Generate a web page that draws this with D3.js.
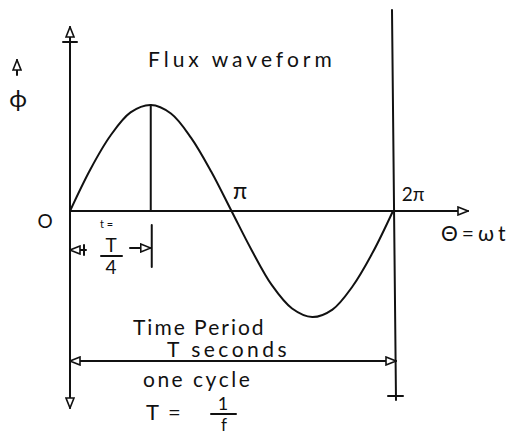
<!DOCTYPE html>
<html>
<head>
<meta charset="utf-8">
<script src="https://cdn.jsdelivr.net/npm/d3@7"></script>
<style>
  body { margin: 0; background: #fff; }
  svg { display: block; }
  .ink { stroke: #111; fill: none; stroke-width: 2; stroke-linecap: round; }
  .hand { font-family: "Lato", "DejaVu Sans", sans-serif; fill: #111; }
</style>
</head>
<body>
<script>
// angle values in units of pi
var thetaPi = [0, 0.125, 0.25, 0.375, 0.5, 0.625, 0.75, 0.875, 1, 1.125, 1.25, 1.375, 1.5, 1.625, 1.75, 1.875, 2];
// flux values (normalised to peak)
var flux = [0, 0.39, 0.71, 0.93, 1, 0.92, 0.69, 0.37, 0, -0.37, -0.7, -0.92, -1, -0.93, -0.71, -0.39, 0];
// labels on the theta axis
var tickPi = [0, 1, 2];
var tickLabels = ["O", "π", "2π"];

(function(){

    var width = 514, height = 434;

    var svg = d3.select("body").append("svg")
        .attr("width", width)
        .attr("height", height);

    // open arrowhead marker
    var defs = svg.append("defs");
    defs.append("marker")
        .attr("id", "arrow")
        .attr("viewBox", "0 0 12 10")
        .attr("refX", 11).attr("refY", 5)
        .attr("markerWidth", 12).attr("markerHeight", 10)
        .attr("markerUnits", "userSpaceOnUse")
        .attr("orient", "auto-start-reverse")
        .append("path")
        .attr("d", "M1,1 L11,5 L1,9 Z")
        .attr("fill", "#fff").attr("stroke", "#111").attr("stroke-width", 1.6);

    var x = d3.scaleLinear().domain([0, 2]).range([70, 393]);
    var y = d3.scaleLinear().domain([-1, 1]).range([317, 105]);

    // theta axis
    svg.append("line").attr("class", "ink")
        .attr("x1", x(0)).attr("y1", y(0))
        .attr("x2", 468).attr("y2", y(0))
        .attr("marker-end", "url(#arrow)");

    // phi axis, up and down
    svg.append("line").attr("class", "ink")
        .attr("x1", x(0)).attr("y1", y(0))
        .attr("x2", x(0)).attr("y2", 27)
        .attr("marker-end", "url(#arrow)");
    svg.append("line").attr("class", "ink")
        .attr("x1", x(0)).attr("y1", y(0))
        .attr("x2", x(0)).attr("y2", 408)
        .attr("marker-end", "url(#arrow)");
    svg.append("line").attr("class", "ink")
        .attr("x1", x(0) - 7).attr("y1", 42).attr("x2", x(0) + 7).attr("y2", 42);

    // line at 2pi
    svg.append("line").attr("class", "ink")
        .attr("x1", x(2) - 1).attr("y1", 10)
        .attr("x2", x(2) + 3).attr("y2", 400);
    svg.append("line").attr("class", "ink")
        .attr("x1", x(2) - 5).attr("y1", 396).attr("x2", x(2) + 10).attr("y2", 396);

    // flux curve
    var line = d3.line()
        .x(function(d, i){ return x(thetaPi[i]); })
        .y(function(d){ return y(d); })
        .curve(d3.curveCatmullRom);
    svg.append("path").datum(flux)
        .attr("class", "ink")
        .attr("stroke-width", 2.2)
        .attr("d", line);

    // peak drop line at pi/2
    svg.append("line").attr("class", "ink")
        .attr("x1", x(0.5)).attr("y1", y(1))
        .attr("x2", x(0.5)).attr("y2", y(0));
    svg.append("line").attr("class", "ink")
        .attr("x1", x(0.5) + 1).attr("y1", 225)
        .attr("x2", x(0.5) + 1).attr("y2", 267);

    // T/4 dimension arrows
    svg.append("line").attr("class", "ink")
        .attr("x1", 86).attr("y1", 250).attr("x2", x(0)).attr("y2", 250)
        .attr("marker-end", "url(#arrow)");
    svg.append("line").attr("class", "ink")
        .attr("x1", 84).attr("y1", 245).attr("x2", 84).attr("y2", 255);
    svg.append("line").attr("class", "ink")
        .attr("x1", 130).attr("y1", 248).attr("x2", x(0.5)).attr("y2", 248)
        .attr("marker-end", "url(#arrow)");

    // one period double arrow
    svg.append("line").attr("class", "ink")
        .attr("x1", x(0)).attr("y1", 361)
        .attr("x2", x(2) + 3).attr("y2", 361)
        .attr("marker-start", "url(#arrow)")
        .attr("marker-end", "url(#arrow)");

    // tick labels
    var tickPos = [[45, 228], [240, 199], [413, 201]];
    svg.selectAll(".tick").data(tickPi).enter().append("text")
        .attr("class", "hand tick")
        .attr("x", function(d, i){ return tickPos[i][0]; })
        .attr("y", function(d, i){ return tickPos[i][1]; })
        .attr("text-anchor", "middle")
        .attr("font-family", function(d, i){ return i === 0 ? null : "DejaVu Sans"; })
        .attr("font-size", function(d, i){ return [19, 23, 19][i]; })
        .text(function(d, i){ return tickLabels[i]; });

    // text labels
    function label(t, px, py, size, anchor){
        return svg.append("text").attr("class", "hand")
            .attr("x", px).attr("y", py)
            .attr("font-size", size)
            .attr("text-anchor", anchor || "start")
            .text(t);
    }
    label("Flux waveform", 148, 67, 21).attr("letter-spacing", 4);
    label("Θ=ωt", 441, 241, 21).attr("letter-spacing", 4);
    label("t =", 100, 228, 11).attr("font-family", "Liberation Serif");
    label("T", 111, 252, 19, "middle");
    label("4", 111, 274, 19, "middle");
    svg.append("line").attr("class", "ink").attr("stroke-width", 1.6)
        .attr("x1", 101).attr("y1", 256).attr("x2", 122).attr("y2", 256);
    label("Time Period", 133, 335, 21).attr("letter-spacing", 2);
    label("T seconds", 167, 357, 21).attr("letter-spacing", 3.5);
    label("one cycle", 143, 387, 21).attr("letter-spacing", 2.5);
    label("T =", 146, 420, 22).attr("letter-spacing", 2);
    label("1", 223, 410, 18, "middle");
    svg.append("line").attr("class", "ink").attr("stroke-width", 1.6)
        .attr("x1", 211).attr("y1", 414).attr("x2", 236).attr("y2", 414);
    label("f", 224, 431, 17, "middle").attr("font-family", "DejaVu Sans");

    // phi label with small arrow
    label("ϕ", 18, 107, 24, "middle").attr("font-family", "DejaVu Sans");
    svg.append("line").attr("class", "ink")
        .attr("x1", 17).attr("y1", 75).attr("x2", 17).attr("y2", 60)
        .attr("marker-end", "url(#arrow)");

})();
</script>
</body>
</html>
